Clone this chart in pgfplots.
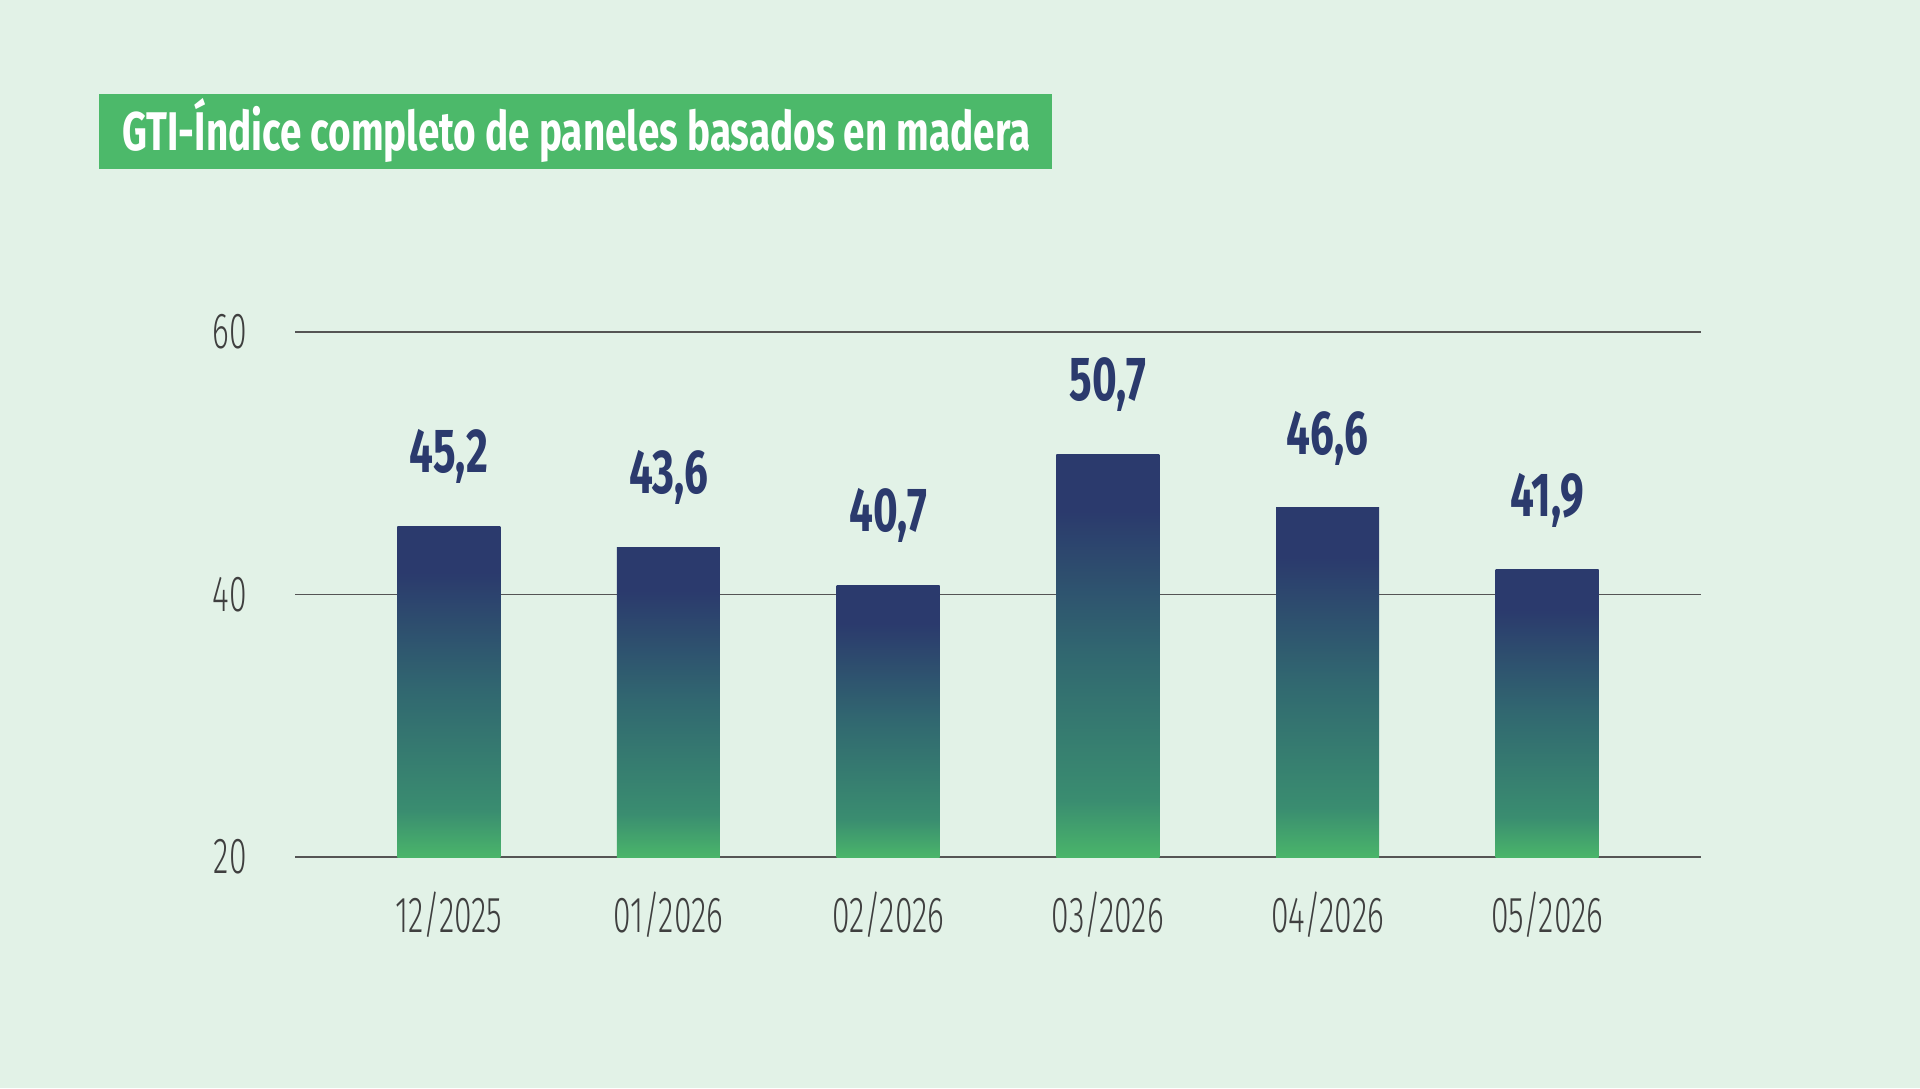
\documentclass[border=0pt]{standalone}
\usepackage{pgfplots}
\pgfplotsset{compat=1.18}
\usepackage{fontspec}
\setmainfont{Fira Sans}
% condensed faces for the title, values and axis labels
\newfontfamily\condbold{Fira Sans}[FakeStretch=0.71]
\newfontfamily\condvalue{Fira Sans}[FakeStretch=0.68]
\newfontfamily\condlight{Fira Sans Light}[FakeStretch=0.63]

\definecolor{bg}{HTML}{E2F2E7}
\definecolor{titlegreen}{HTML}{4CB96A}
\definecolor{navy}{HTML}{2B3A6D}
\definecolor{barmid}{HTML}{316870}
\definecolor{barlow}{HTML}{3A8D70}
\definecolor{bargreen}{HTML}{4AB56A}
\definecolor{gridgray}{HTML}{555555}
\definecolor{ticktext}{HTML}{3F3F3F}

% vertical fill of each bar: green at the base, navy at the top
\pgfdeclareverticalshading{bargrad}{100bp}{%
  color(0bp)=(bargreen); color(25bp)=(bargreen); color(32bp)=(barlow);
  color(50bp)=(barmid); color(68bp)=(navy); color(100bp)=(navy)}

\pgfplotstableread{
x v
0 45.2
1 43.6
2 40.7
3 50.7
4 46.6
5 41.9
}\gtidata

\begin{document}
\begin{tikzpicture}
% page background
\fill[bg] (0,0) rectangle (19.2,10.88);
% title banner
\fill[titlegreen] (0.99,9.94) rectangle (10.52,9.19);
\node[anchor=base west, inner sep=0, text=white, font=\condbold\bfseries\fontsize{15.5}{18}\selectfont]
  at (1.22,9.37) {GTI-Índice completo de paneles basados en madera};

\begin{axis}[
  at={(2.95cm,2.31cm)}, anchor=south west,
  scale only axis, width=14.06cm, height=5.25cm,
  xmin=-0.7, xmax=5.7, ymin=20, ymax=60,
  y coord trafo/.code={\pgfmathparse{#1-20}},
  y coord inv trafo/.code={\pgfmathparse{#1+20}},
  ytick={20,40,60},
  xtick={0,...,5},
  xticklabels={12/2025,01/2026,02/2026,03/2026,04/2026,05/2026},
  axis line style={draw=none},
  major tick length=0pt,
  ymajorgrids,
  major grid style={gridgray, line width=0.016cm},
  /pgf/number format/assume math mode=true,
  yticklabel style={font=\condlight\fontsize{14.4}{16}\selectfont, text=ticktext, xshift=-0.36cm},
  xticklabel style={font=\condlight\fontsize{14.4}{16}\selectfont, text=ticktext, yshift=-0.22cm},
  ybar, bar width=1.03cm,
  point meta=explicit,
  nodes near coords={\pgfmathprintnumber[fixed,fixed zerofill,precision=1,use comma,assume math mode=true]{\pgfplotspointmeta}},
  every node near coord/.append style={font=\condvalue\bfseries\fontsize{17.7}{20}\selectfont, text=navy, anchor=south, yshift=0.3cm},
  clip=false,
]
% one plot per month so that every bar carries its own gradient
\pgfplotsinvokeforeach{0,...,5}{
  \addplot[draw=none, shade, shading=bargrad, bar shift=0pt,
    x filter/.expression={x==#1 ? x : nan}]
    table[x=x, y=v, meta=v] {\gtidata};
}
\end{axis}
\end{tikzpicture}
\end{document}
